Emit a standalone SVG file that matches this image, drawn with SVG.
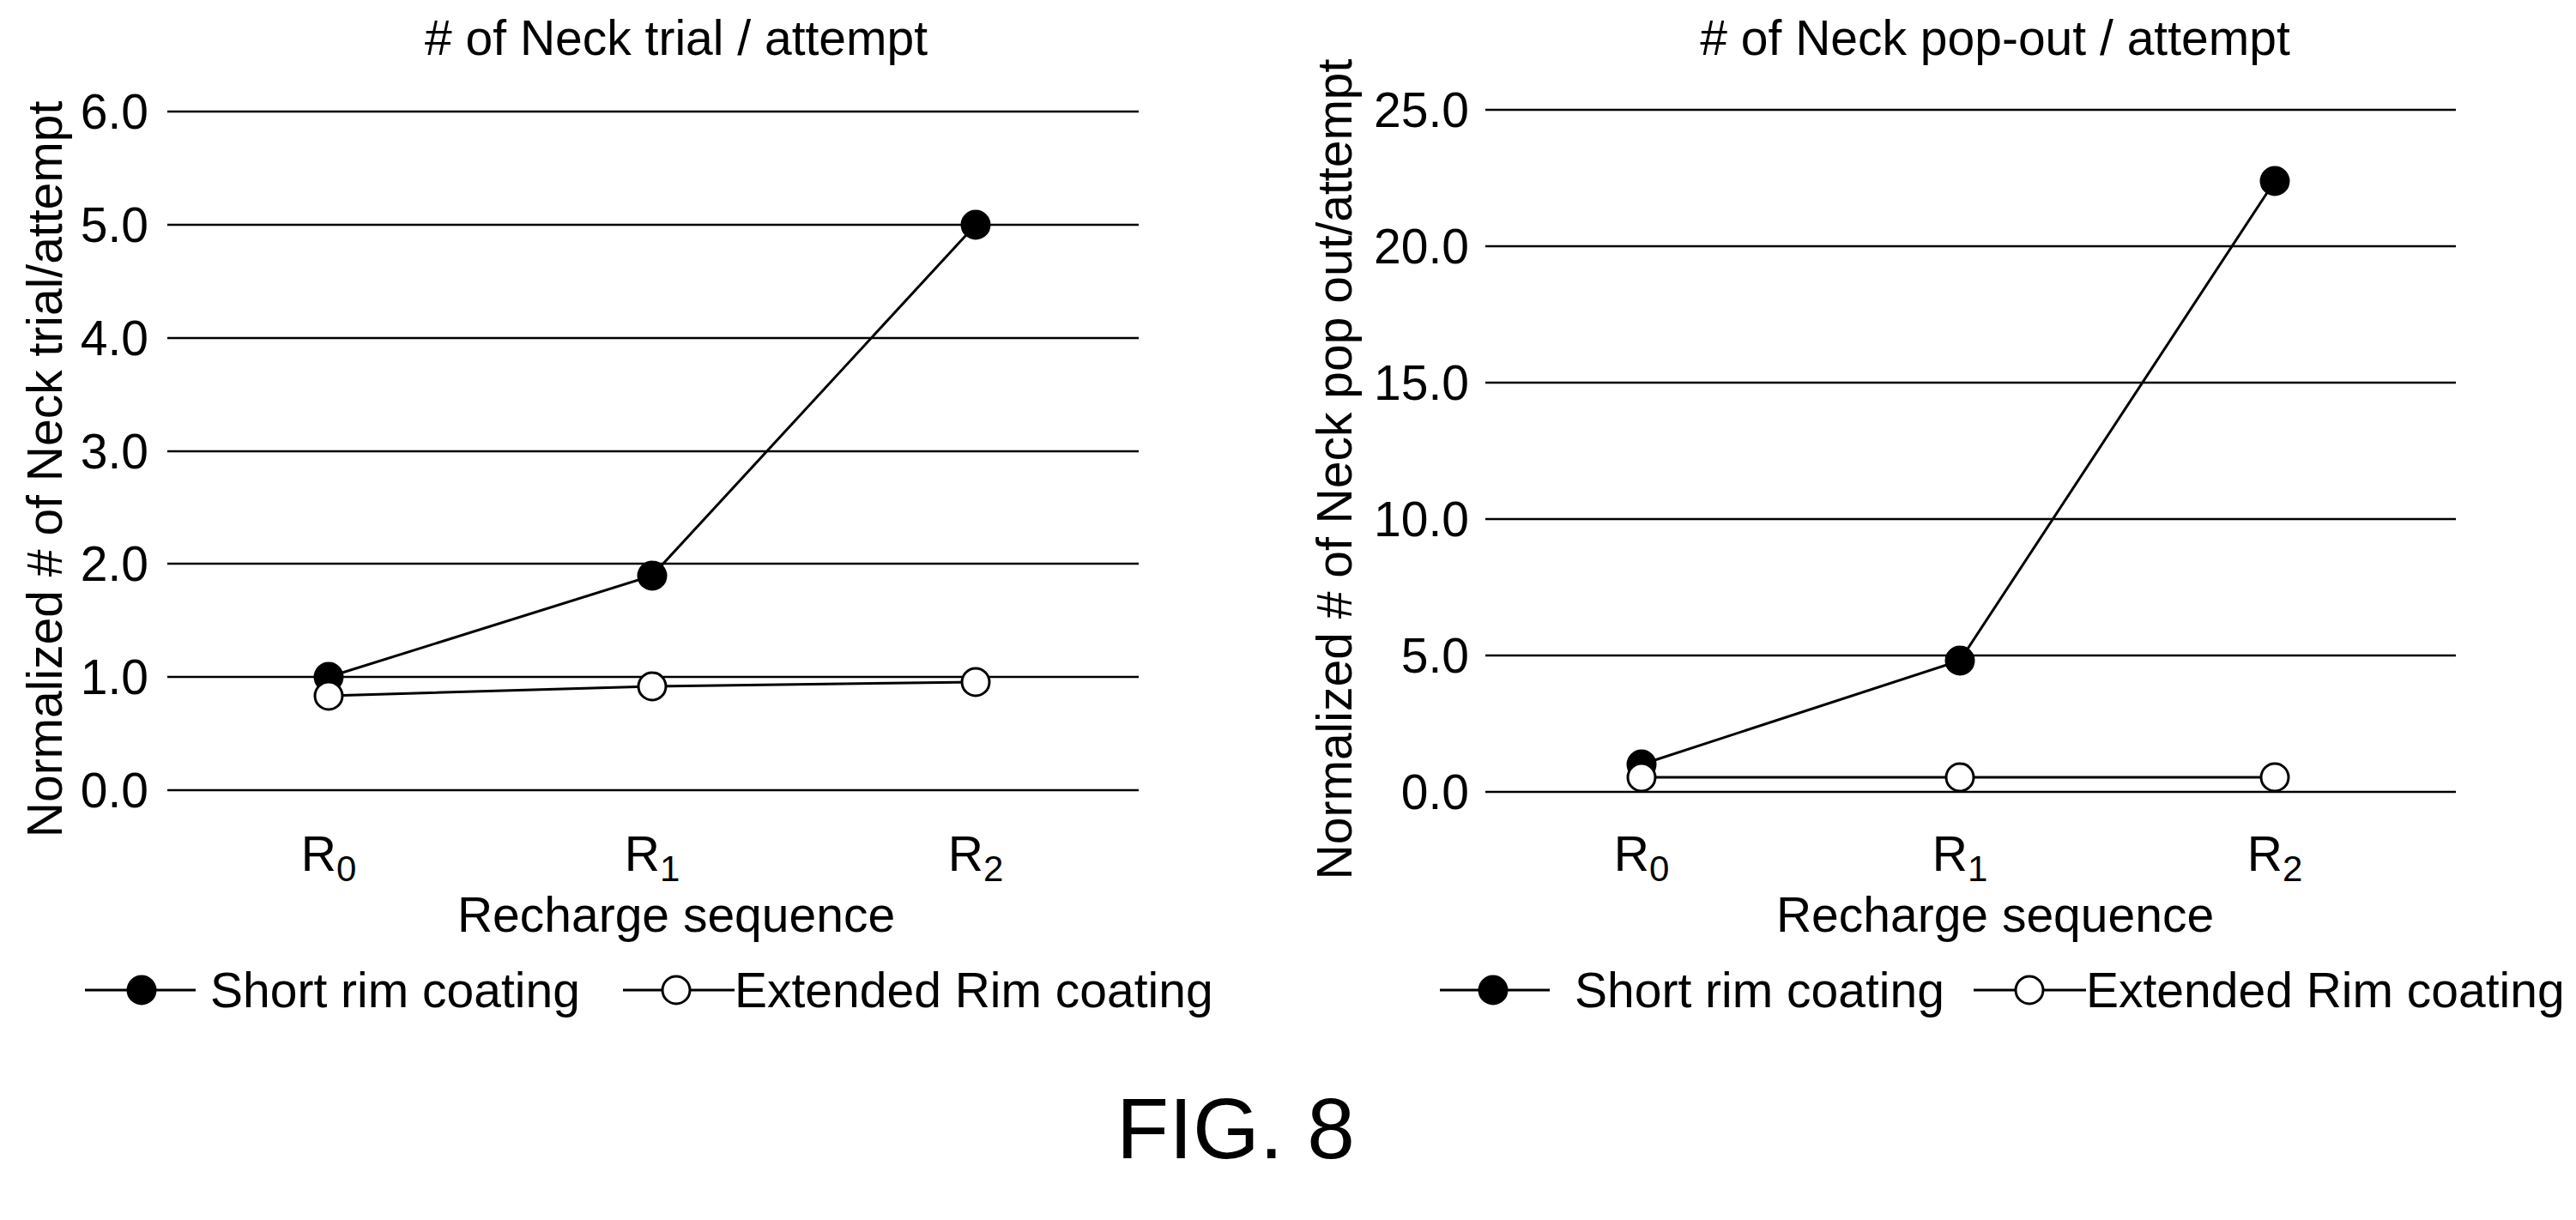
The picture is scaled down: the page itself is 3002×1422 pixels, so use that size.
<svg xmlns="http://www.w3.org/2000/svg" width="3002" height="1422" viewBox="0 0 3002 1422">
<style>
text{font-family:"Liberation Sans",Arial,sans-serif;fill:#000}
.t{font-size:57px;text-anchor:middle}
.tk{font-size:57px;text-anchor:end}
.lg{font-size:57px}
.g{stroke:#000;stroke-width:2.5}
.d{stroke:#000;stroke-width:3;fill:none}
.f{fill:#000;stroke:#000;stroke-width:3}
.o{fill:#fff;stroke:#000;stroke-width:3}
</style>
<rect width="3002" height="1422" fill="#fff"/>
<g id="chart1">
<text class="t" x="788" y="64"># of Neck trial / attempt</text>
<g class="g">
<line x1="195" y1="130" x2="1327" y2="130"/><line x1="195" y1="262" x2="1327" y2="262"/><line x1="195" y1="394" x2="1327" y2="394"/><line x1="195" y1="526" x2="1327" y2="526"/><line x1="195" y1="657" x2="1327" y2="657"/><line x1="195" y1="789" x2="1327" y2="789"/><line x1="195" y1="921" x2="1327" y2="921"/>
</g>
<g class="tk">
<text x="173" y="150">6.0</text><text x="173" y="282">5.0</text><text x="173" y="414">4.0</text><text x="173" y="546">3.0</text><text x="173" y="677">2.0</text><text x="173" y="809">1.0</text><text x="173" y="941">0.0</text>
</g>
<text class="t" transform="translate(72,547) rotate(-90)">Normalized # of Neck trial/attempt</text>
<text class="t" x="383" y="1015">R<tspan font-size="42" dy="12">0</tspan></text>
<text class="t" x="760" y="1015">R<tspan font-size="42" dy="12">1</tspan></text>
<text class="t" x="1137" y="1015">R<tspan font-size="42" dy="12">2</tspan></text>
<text class="t" x="788" y="1086">Recharge sequence</text>
<g id="series1">
<polyline class="d" points="383,789 760,671 1137,262"/>
<polyline class="d" points="383,811 760,800 1137,795"/>
<circle class="f" cx="383" cy="789" r="16"/><circle class="f" cx="760" cy="671" r="16"/><circle class="f" cx="1137" cy="262" r="16"/>
<circle class="o" cx="383" cy="811" r="16"/><circle class="o" cx="760" cy="800" r="16"/><circle class="o" cx="1137" cy="795" r="16"/>
</g>
<g id="legend1">
<line class="d" x1="99" y1="1154" x2="228" y2="1154"/><circle class="f" cx="165" cy="1154" r="16"/>
<text class="lg" x="245" y="1174">Short rim coating</text>
<line class="d" x1="726" y1="1154" x2="856" y2="1154"/><circle class="o" cx="788" cy="1154" r="16"/>
<text class="lg" x="856" y="1174">Extended Rim coating</text>
</g>
</g>
<g id="chart2">
<text class="t" x="2325" y="64"># of Neck pop-out / attempt</text>
<g class="g">
<line x1="1731" y1="128" x2="2862" y2="128"/><line x1="1731" y1="287" x2="2862" y2="287"/><line x1="1731" y1="446" x2="2862" y2="446"/><line x1="1731" y1="605" x2="2862" y2="605"/><line x1="1731" y1="764" x2="2862" y2="764"/><line x1="1731" y1="923" x2="2862" y2="923"/>
</g>
<g class="tk">
<text x="1712" y="148">25.0</text><text x="1712" y="307">20.0</text><text x="1712" y="466">15.0</text><text x="1712" y="625">10.0</text><text x="1712" y="784">5.0</text><text x="1712" y="943">0.0</text>
</g>
<text class="t" transform="translate(1575,547) rotate(-90)">Normalized # of Neck pop out/attempt</text>
<text class="t" x="1913" y="1015">R<tspan font-size="42" dy="12">0</tspan></text>
<text class="t" x="2284" y="1015">R<tspan font-size="42" dy="12">1</tspan></text>
<text class="t" x="2651" y="1015">R<tspan font-size="42" dy="12">2</tspan></text>
<text class="t" x="2325" y="1086">Recharge sequence</text>
<g id="series2">
<polyline class="d" points="1913,891 2284,770 2651,211"/>
<polyline class="d" points="1913,906 2284,906 2651,906"/>
<circle class="f" cx="1913" cy="891" r="16"/><circle class="f" cx="2284" cy="770" r="16"/><circle class="f" cx="2651" cy="211" r="16"/>
<circle class="o" cx="1913" cy="906" r="16"/><circle class="o" cx="2284" cy="906" r="16"/><circle class="o" cx="2651" cy="906" r="16"/>
</g>
<g id="legend2">
<line class="d" x1="1678" y1="1154" x2="1806" y2="1154"/><circle class="f" cx="1740" cy="1154" r="16"/>
<text class="lg" x="1835" y="1174">Short rim coating</text>
<line class="d" x1="2300" y1="1154" x2="2431" y2="1154"/><circle class="o" cx="2365" cy="1154" r="16"/>
<text class="lg" x="2431" y="1174">Extended Rim coating</text>
</g>
</g>
<text x="1440" y="1350" font-size="100" text-anchor="middle">FIG. 8</text>
</svg>
